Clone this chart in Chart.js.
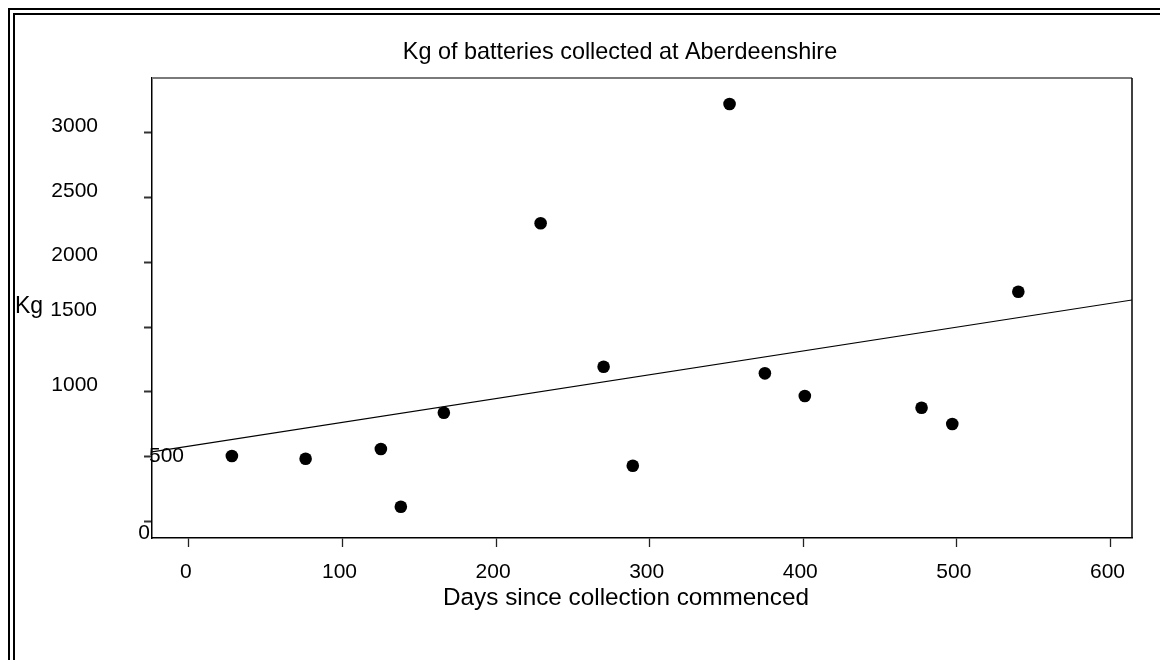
<!DOCTYPE html>
<html>
<head>
<meta charset="utf-8">
<title>Kg of batteries collected at Aberdeenshire</title>
<script src="https://cdn.jsdelivr.net/npm/chart.js"></script>
<style>
  html, body { margin: 0; padding: 0; background: #fff; overflow: hidden; }
  #wrap { position: relative; width: 1160px; height: 660px; }
  #frame { position: absolute; left: 8px; top: 8px; width: 1200px; height: 700px;
           border-top: 7px double #000; border-left: 7px double #000; pointer-events: none; }
  canvas { position: absolute; left: 0; top: 0; }
</style>
</head>
<body>
<div id="wrap">
  <canvas id="myChart" width="1160" height="660"></canvas>
  <div id="frame"></div>
</div>
<script>
// data
var days = [28, 76, 125, 138, 166, 229, 270, 289, 352, 375, 401, 477, 497, 540];
var kg = [503, 482, 557, 111, 837, 2302, 1193, 428, 3224, 1142, 967, 876, 750, 1773];
// fitted line, read at both ends of the plot
var trendDays = [-24, 614];
var trendKg = [534, 1709];

var xTicks = [0, 100, 200, 300, 400, 500, 600];
var yTicks = [0, 500, 1000, 1500, 2000, 2500, 3000];

var titleText = 'Kg of batteries collected at Aberdeenshire';
var xTitle = 'Days since collection commenced';
var yTitle = 'Kg';

var family = '"Liberation Sans", Arial, sans-serif';

// the y labels in the original sit a bit off their ticks, each its own way:
// [x from plot left edge, baseline from tick, align]
var yLabelSpot = {
  0: [-2, 18, 'right'],
  500: [-3, 6, 'left'],
  1000: [-54, -1, 'right'],
  1500: [-55, -11, 'right'],
  2000: [-54, -1, 'right'],
  2500: [-54, -1, 'right'],
  3000: [-54, -1, 'right']
};

var texts = {
  id: 'texts',
  afterDraw: function (chart) {
    var c = chart.ctx, a = chart.chartArea, ys = chart.scales.y;
    c.save();
    // top and right edges of the plot box
    c.strokeStyle = '#7a7a7a';
    c.lineWidth = 2;
    c.beginPath();
    c.moveTo(a.left, a.top);
    c.lineTo(a.right, a.top);
    c.stroke();
    c.strokeStyle = '#000';
    c.lineWidth = 1.5;
    c.beginPath();
    c.moveTo(a.right, a.top);
    c.lineTo(a.right, a.bottom);
    c.stroke();

    c.fillStyle = '#000';
    c.textBaseline = 'alphabetic';

    c.font = '23.4px ' + family;
    c.textAlign = 'center';
    c.fillText(titleText, (a.left + a.right) / 2 - 22, a.top - 19);

    c.font = '24.3px ' + family;
    c.fillText(xTitle, (a.left + a.right) / 2 - 16, a.bottom + 67);

    c.font = '23px ' + family;
    c.textAlign = 'left';
    c.fillText(yTitle, 15, ys.getPixelForValue(1500) - 14);

    c.font = '21px ' + family;
    yTicks.forEach(function (v) {
      var s = yLabelSpot[v];
      c.textAlign = s[2];
      c.fillText(String(v), a.left + s[0], ys.getPixelForValue(v) + s[1]);
    });
    c.restore();
  }
};

var ctx = document.getElementById('myChart').getContext('2d');
var chart = new Chart(ctx, {
  type: 'scatter',
  data: {
    datasets: [{
      label: 'Kg',
      data: days.map(function (d, i) { return { x: d, y: kg[i] }; }),
      pointRadius: 6.3,
      pointBackgroundColor: '#000',
      pointBorderColor: '#000',
      pointBorderWidth: 0,
      showLine: false
    }, {
      label: 'Fit',
      type: 'line',
      data: trendDays.map(function (d, i) { return { x: d, y: trendKg[i] }; }),
      borderColor: '#000',
      borderWidth: 1.2,
      pointRadius: 0,
      fill: false
    }]
  },
  options: {
    responsive: false,
    animation: false,
    layout: { padding: { left: 144, top: 78, right: 28, bottom: 72 } },
    plugins: {
      legend: { display: false },
      tooltip: { enabled: false },
      title: { display: false }
    },
    scales: {
      x: {
        type: 'linear',
        min: -24,
        max: 614,
        afterBuildTicks: function (s) { s.ticks = xTicks.map(function (v) { return { value: v }; }); },
        afterFit: function (s) { s.height = 50; },
        grid: { drawOnChartArea: false, tickLength: 9, tickColor: '#222', tickWidth: 1.3 },
        border: { color: '#000', width: 1.5 },
        ticks: {
          font: { family: family, size: 21 },
          color: '#000',
          padding: 13,
          labelOffset: -3,
          maxRotation: 0
        }
      },
      y: {
        type: 'linear',
        min: -131,
        max: 3425,
        afterBuildTicks: function (s) { s.ticks = yTicks.map(function (v) { return { value: v }; }); },
        afterFit: function (s) { s.width = 8; },
        grid: { drawOnChartArea: false, tickLength: 8, tickColor: '#333', tickWidth: 2 },
        border: { color: '#000', width: 1.5 },
        ticks: { display: false }
      }
    }
  },
  plugins: [texts]
});
</script>
</body>
</html>
